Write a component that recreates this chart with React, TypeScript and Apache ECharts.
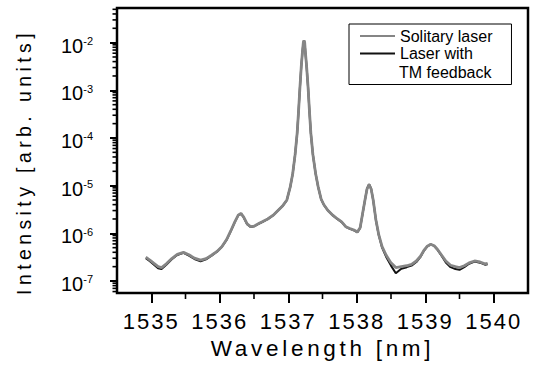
import React, { useEffect, useRef } from "react";
import * as echarts from "echarts";

// Wavelength in nm
const wavelength = [
  1534.92, 1534.98, 1535.04, 1535.1, 1535.15, 1535.22, 1535.3, 1535.38, 1535.47, 1535.55,
  1535.63, 1535.72, 1535.8, 1535.88, 1535.96, 1536.03, 1536.1, 1536.16, 1536.22, 1536.27,
  1536.31, 1536.35, 1536.4, 1536.45, 1536.5, 1536.56, 1536.62, 1536.7, 1536.78, 1536.85,
  1536.92, 1536.98, 1537.03, 1537.065, 1537.1, 1537.13, 1537.15, 1537.17, 1537.19, 1537.207,
  1537.22, 1537.23, 1537.24, 1537.25, 1537.268, 1537.29, 1537.31, 1537.33, 1537.36, 1537.4,
  1537.436, 1537.48, 1537.52, 1537.58, 1537.65, 1537.72, 1537.78, 1537.84, 1537.9, 1537.96,
  1538.01, 1538.05, 1538.09, 1538.12, 1538.15, 1538.18, 1538.21, 1538.24, 1538.28, 1538.32,
  1538.37, 1538.43, 1538.5, 1538.57, 1538.65, 1538.73, 1538.8, 1538.87, 1538.93, 1538.98,
  1539.03, 1539.08, 1539.13, 1539.18, 1539.24, 1539.3, 1539.37, 1539.44, 1539.5, 1539.57,
  1539.64, 1539.72, 1539.8, 1539.87, 1539.91,
];

// Solitary laser intensity (arb. units)
const solitary = [
  3.16e-7, 2.75e-7, 2.34e-7, 2.0e-7, 1.91e-7, 2.29e-7, 2.95e-7, 3.63e-7, 3.98e-7, 3.55e-7,
  3.02e-7, 2.75e-7, 2.95e-7, 3.47e-7, 4.17e-7, 5.25e-7, 7.41e-7, 1.12e-6, 1.74e-6, 2.4e-6,
  2.63e-6, 2.19e-6, 1.58e-6, 1.38e-6, 1.41e-6, 1.58e-6, 1.74e-6, 2.0e-6, 2.4e-6, 3.02e-6,
  3.8e-6, 5.01e-6, 9.55e-6, 1.78e-5, 4.47e-5, 1.26e-4, 3.55e-4, 1.12e-3, 3.16e-3, 6.31e-3,
  1.0e-2, 1.12e-2, 1.0e-2, 6.31e-3, 3.16e-3, 1.12e-3, 3.55e-4, 1.26e-4, 4.47e-5, 1.78e-5,
  9.55e-6, 5.25e-6, 3.98e-6, 3.02e-6, 2.4e-6, 2.0e-6, 1.74e-6, 1.38e-6, 1.26e-6, 1.17e-6,
  1.07e-6, 1.32e-6, 2.82e-6, 5.01e-6, 8.51e-6, 1.05e-5, 8.51e-6, 5.01e-6, 1.91e-6, 9.55e-7,
  5.25e-7, 3.47e-7, 2.4e-7, 1.91e-7, 2.0e-7, 2.09e-7, 2.24e-7, 2.63e-7, 3.31e-7, 4.37e-7,
  5.37e-7, 5.89e-7, 5.5e-7, 4.57e-7, 3.47e-7, 2.63e-7, 2.14e-7, 2.0e-7, 1.91e-7, 2.09e-7,
  2.4e-7, 2.63e-7, 2.51e-7, 2.29e-7, 2.34e-7,
];

// Laser with TM feedback intensity (arb. units)
const feedback = [
  3.0e-7, 2.6e-7, 2.2e-7, 1.85e-7, 1.78e-7, 2.2e-7, 2.85e-7, 3.5e-7, 3.9e-7, 3.4e-7,
  2.9e-7, 2.6e-7, 2.85e-7, 3.4e-7, 4.1e-7, 5.2e-7, 7.3e-7, 1.1e-6, 1.72e-6, 2.38e-6,
  2.6e-6, 2.15e-6, 1.55e-6, 1.36e-6, 1.4e-6, 1.56e-6, 1.72e-6, 1.98e-6, 2.38e-6, 3.0e-6,
  3.78e-6, 4.98e-6, 9.5e-6, 1.77e-5, 4.45e-5, 1.25e-4, 3.53e-4, 1.11e-3, 3.14e-3, 6.28e-3,
  9.95e-3, 1.11e-2, 9.95e-3, 6.28e-3, 3.14e-3, 1.11e-3, 3.53e-4, 1.25e-4, 4.45e-5, 1.77e-5,
  9.5e-6, 5.2e-6, 3.95e-6, 3.0e-6, 2.38e-6, 1.98e-6, 1.72e-6, 1.36e-6, 1.24e-6, 1.15e-6,
  1.05e-6, 1.3e-6, 2.8e-6, 4.98e-6, 8.6e-6, 1.07e-5, 8.6e-6, 4.98e-6, 1.88e-6, 9.3e-7,
  5.0e-7, 3.2e-7, 2.1e-7, 1.45e-7, 1.8e-7, 1.95e-7, 2.1e-7, 2.5e-7, 3.2e-7, 4.3e-7,
  5.3e-7, 5.85e-7, 5.45e-7, 4.5e-7, 3.35e-7, 2.45e-7, 1.95e-7, 1.78e-7, 1.72e-7, 1.95e-7,
  2.3e-7, 2.55e-7, 2.42e-7, 2.2e-7, 2.25e-7,
];

const xMin = 1534.5;
const xMax = 1540.5;
const xTickValues = [1535, 1536, 1537, 1538, 1539, 1540];
const xMinorTickValues = [1535.5, 1536.5, 1537.5, 1538.5, 1539.5];

const yMin = 5.6e-8;
const yMax = 5.33e-2;
const yTickValues = [1e-7, 1e-6, 1e-5, 1e-4, 1e-3, 1e-2];
const yMinorTickValues = [
  6e-8, 7e-8, 8e-8, 9e-8,
  2e-7, 3e-7, 4e-7, 5e-7, 6e-7, 7e-7, 8e-7, 9e-7,
  2e-6, 3e-6, 4e-6, 5e-6, 6e-6, 7e-6, 8e-6, 9e-6,
  2e-5, 3e-5, 4e-5, 5e-5, 6e-5, 7e-5, 8e-5, 9e-5,
  2e-4, 3e-4, 4e-4, 5e-4, 6e-4, 7e-4, 8e-4, 9e-4,
  2e-3, 3e-3, 4e-3, 5e-3, 6e-3, 7e-3, 8e-3, 9e-3,
  2e-2, 3e-2, 4e-2, 5e-2,
];

const seriesNames = ["Solitary laser", "Laser with"];
const legendExtraLine = "TM feedback";
const xTitle = "Wavelength [nm]";
const yTitle = "Intensity [arb. units]";

const FONT = "Liberation Sans";

export default function App() {
  const ref = useRef<HTMLDivElement>(null);

  useEffect(() => {
    const host = ref.current;
    if (!host) return;
    const chart = echarts.init(host, null, { renderer: "svg" });

    const textElements: any[] = [
      {
        type: "text",
        x: 399,
        y: 72.3,
        style: {
          text: legendExtraLine,
          fontSize: 16,
          fontFamily: FONT,
          fill: "#000",
          verticalAlign: "middle",
          align: "left",
        },
      },
      {
        type: "text",
        x: 23.5,
        y: 162,
        rotation: Math.PI / 2,
        style: {
          text: yTitle,
          fontSize: 19.5,
          fontFamily: FONT,
          fill: "#000",
          align: "center",
          verticalAlign: "middle",
        },
      },
    ];

    const option: any = {
      animation: false,
      backgroundColor: "#fff",
      grid: {
        left: 117,
        right: 6,
        top: 8,
        bottom: 73,
        show: true,
        borderColor: "#000",
        borderWidth: 2.5,
      },
      xAxis: {
        type: "value",
        min: xMin,
        max: xMax,
        axisLine: { show: true, lineStyle: { color: "#000", width: 2 } },
        axisTick: { show: true, length: 10, lineStyle: { color: "#000", width: 2 }, customValues: xTickValues },
        axisLabel: {
          customValues: xTickValues,
          margin: 17,
          fontSize: 22,
          fontFamily: FONT,
          color: "#000",
          formatter: (v: number) => String(Math.round(v)),
        },
        splitLine: { show: false },
        name: xTitle,
        nameLocation: "middle",
        nameGap: 43,
        nameTextStyle: { fontSize: 22.5, fontFamily: FONT, color: "#000" },
      },
      yAxis: {
        type: "log",
        min: yMin,
        max: yMax,
        axisLine: { show: true, lineStyle: { color: "#000", width: 2 } },
        axisTick: { show: true, length: 7, lineStyle: { color: "#000", width: 2 }, customValues: yTickValues },
        axisLabel: {
          customValues: yTickValues,
          margin: 24,
          padding: [6, 0, 0, 0],
          formatter: (v: number) => `{a|10}{b|${Math.round(Math.log10(v))}}`,
          rich: {
            a: { fontSize: 20, fontFamily: FONT, color: "#000" },
            b: { fontSize: 11, fontFamily: FONT, color: "#000", verticalAlign: "top" },
          },
        },
        splitLine: { show: false },
        minorSplitLine: { show: false },
      },
      legend: {
        show: true,
        orient: "vertical",
        left: 349,
        top: 24,
        padding: [4, 19, 23, 11],
        itemGap: 1.5,
        itemWidth: 35,
        itemHeight: 2,
        icon: "rect",
        borderColor: "#000",
        borderWidth: 1,
        selectedMode: false,
        textStyle: { fontSize: 16, fontFamily: FONT, color: "#000" },
        data: [seriesNames[0], seriesNames[1]],
      },
      graphic: { elements: textElements },
      series: [
        {
          name: seriesNames[1],
          type: "line",
          symbol: "none",
          showSymbol: false,
          data: wavelength.map((w, i) => [w, feedback[i]]),
          lineStyle: { color: "#111", width: 2 },
          itemStyle: { color: "#111" },
          z: 2,
        },
        {
          name: seriesNames[0],
          type: "line",
          symbol: "none",
          showSymbol: false,
          data: wavelength.map((w, i) => [w, solitary[i]]),
          lineStyle: { color: "#858585", width: 2.8 },
          itemStyle: { color: "#858585" },
          z: 3,
        },
      ],
    };
    chart.setOption(option);

    // Minor tick marks placed through the chart's own scales
    const tickEls: any[] = [];
    xMinorTickValues.forEach((v) => {
      const p = chart.convertToPixel({ gridIndex: 0 }, [v, yMin]) as number[];
      tickEls.push({
        type: "line",
        shape: { x1: p[0], y1: p[1], x2: p[0], y2: p[1] + 6 },
        style: { stroke: "#000", lineWidth: 1.6 },
      });
    });
    yMinorTickValues.forEach((v) => {
      const p = chart.convertToPixel({ gridIndex: 0 }, [xMin, v]) as number[];
      tickEls.push({
        type: "line",
        shape: { x1: p[0], y1: p[1], x2: p[0] - 4.5, y2: p[1] },
        style: { stroke: "#000", lineWidth: 1.6 },
      });
    });
    chart.setOption({ graphic: { elements: [...textElements, ...tickEls] } });

    // Widen the letter spacing of the titles and tick numbers, as in the reference
    const spaceTexts = () => {
      host.querySelectorAll("text").forEach((t) => {
        const s = t.textContent || "";
        if (s === xTitle) t.setAttribute("letter-spacing", "3.7");
        else if (s === yTitle) t.setAttribute("letter-spacing", "4.4");
        else if (/^\d{4}$/.test(s)) t.setAttribute("letter-spacing", "2");
      });
    };
    spaceTexts();
    chart.on("finished", spaceTexts);
    const timer = window.setTimeout(spaceTexts, 50);

    return () => {
      window.clearTimeout(timer);
      chart.dispose();
    };
  }, []);

  return (
    <div
      ref={ref}
      style={{ position: "fixed", left: 0, top: 0, width: 534, height: 366, background: "#fff" }}
    />
  );
}
